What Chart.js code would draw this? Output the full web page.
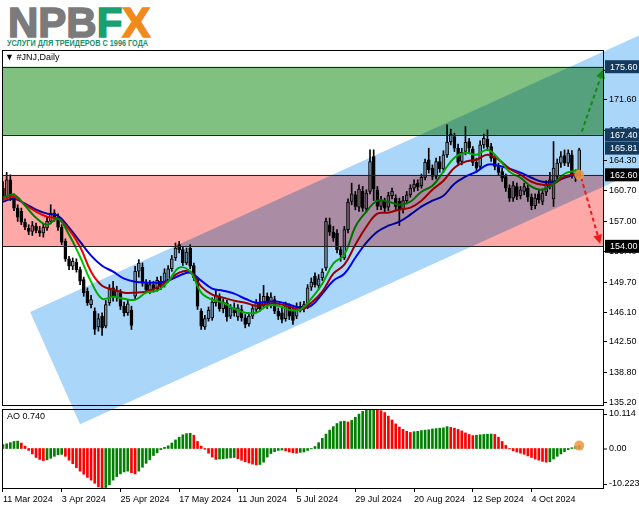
<!DOCTYPE html>
<html lang="ru">
<head>
<meta charset="UTF-8">
<title>#JNJ,Daily</title>
<script src="https://cdn.jsdelivr.net/npm/chart.js@4"></script>
<style>
  body { margin:0; width:639px; height:508px; overflow:hidden; position:relative; background:#fff;
         font-family:"Liberation Sans", Arial, sans-serif; }
  canvas { position:absolute; left:0; top:0; }
  .fit { position:absolute; white-space:nowrap; transform-origin:0 0; }
  #logo { left:8px; top:1px; font-weight:bold; font-size:42px; line-height:44px; color:#7b7b7b;
          -webkit-text-stroke:1.6px currentColor; }
  #logo .f { color:#1a9f72; }
  #logo .x { color:#f08a1c; }
  #tag { left:7px; top:38px; font-weight:bold; font-size:9px; color:#1b8f6c; }
  #title { left:5px; top:52px; font-size:9px; color:#000; z-index:5; }
</style>
</head>
<body>
<div id="logo" class="fit">NPB<span class="f">F</span><span class="x">X</span></div>
<div id="tag" class="fit">УСЛУГИ ДЛЯ ТРЕЙДЕРОВ С 1996 ГОДА</div>
<canvas id="main" width="639" height="508"></canvas>
<canvas id="ao" width="639" height="508"></canvas>
<div id="title" class="fit">&#9660; #JNJ,Daily</div>

<script>
// --- data (bar 0 = 11 Mar 2024) ---
const open  = [161.0,160.0,162.0,159.9,158.6,158.2,156.9,156.2,155.8,156.4,155.9,155.6,156.2,157.0,158.0,157.5,156.3,154.6,152.5,151.6,
               152.1,151.2,150.0,148.6,147.0,146.2,144.3,145.6,144.4,147.2,149.0,147.8,148.4,146.8,146.0,146.3,148.0,151.0,151.5,149.6,
               148.7,149.4,148.9,149.8,149.4,150.0,151.3,152.6,154.2,153.6,152.0,153.8,151.7,150.0,146.2,144.3,145.3,145.4,147.2,148.0,
               146.5,147.2,145.6,146.6,145.5,146.4,145.4,144.7,145.6,146.4,147.2,146.8,148.0,146.9,147.6,146.2,146.0,145.3,146.8,146.2,
               145.6,146.8,146.5,146.8,149.1,150.4,149.3,150.2,151.4,156.6,155.7,155.6,153.6,152.6,156.0,159.4,160.2,158.7,160.6,158.5,
               160.6,164.8,160.8,158.8,159.4,158.7,160.1,159.8,159.4,158.4,159.5,160.2,161.0,161.6,161.3,162.3,164.4,163.4,162.4,164.2,
               163.3,165.0,166.6,167.2,165.8,164.2,165.4,166.6,165.7,164.1,163.6,166.2,166.9,166.0,164.6,163.6,163.0,162.4,161.0,159.8,
               161.2,160.1,160.6,161.0,159.9,158.9,160.3,159.4,160.5,161.2,159.7,162.4,164.0,164.9,164.0,165.0,162.6,162.6];
const high  = [161.8,162.9,162.6,160.3,159.0,158.6,157.3,156.6,157.0,156.8,156.4,156.7,157.5,159.0,158.4,157.9,156.6,154.9,152.8,152.6,
               152.5,151.5,150.3,149.0,148.1,146.6,145.9,146.0,147.5,149.4,149.8,149.2,148.8,147.3,147.5,146.8,151.6,152.4,152.0,150.0,
               149.9,149.8,150.3,150.4,151.3,151.7,152.9,154.4,154.6,153.9,153.8,154.2,152.0,150.2,146.5,145.7,146.7,147.8,148.7,148.3,
               147.7,147.5,147.0,147.2,147.0,146.9,145.8,146.0,146.9,147.6,148.3,149.3,148.4,148.4,148.0,146.6,146.6,147.3,147.1,146.6,
               147.2,147.3,147.4,149.4,150.2,150.8,150.6,151.3,157.4,157.4,156.4,156.0,154.0,156.4,159.7,161.6,160.6,161.4,161.2,160.8,
               165.6,165.6,161.2,160.0,159.8,160.5,161.0,160.2,159.8,160.0,160.6,161.4,162.0,162.0,162.7,164.5,165.8,163.8,164.6,164.8,
               165.5,168.6,168.1,167.6,166.3,165.8,168.4,167.0,166.0,164.6,166.7,167.5,168.0,166.4,165.0,164.0,163.4,162.7,161.4,161.8,
               161.6,161.2,161.6,161.4,160.3,160.3,160.8,160.9,161.9,162.9,166.6,164.5,165.4,165.6,165.6,165.5,163.2,165.8];
const low   = [159.6,159.8,159.5,158.3,157.0,156.6,156.0,155.4,155.3,155.6,155.2,155.1,155.9,156.7,157.0,155.9,154.2,152.2,151.2,151.2,
               150.9,149.4,148.0,146.9,146.6,143.4,143.8,143.3,144.2,146.9,147.4,147.4,146.4,145.6,145.7,144.0,147.6,150.3,149.2,148.4,
               148.3,148.5,148.6,148.8,149.1,149.7,151.0,152.3,153.2,151.7,151.8,151.3,149.9,146.4,144.0,144.0,145.0,145.1,146.8,146.2,
               146.0,145.0,145.3,145.6,145.1,145.0,144.2,144.4,145.3,146.1,146.2,146.6,146.5,146.6,145.9,145.2,144.8,145.0,145.2,144.6,
               145.3,146.1,146.1,146.5,148.7,149.1,148.8,149.9,151.1,155.3,154.6,153.2,152.2,152.4,155.6,159.0,158.4,158.2,158.2,158.1,
               160.3,159.5,158.4,158.4,158.1,158.3,159.7,158.4,156.5,158.0,159.1,159.9,160.6,160.7,161.0,162.0,162.8,162.0,162.1,162.9,
               162.9,164.7,166.2,165.4,163.7,163.8,165.0,165.2,163.7,162.9,163.3,165.8,165.5,164.2,163.2,162.5,161.8,160.6,159.4,159.4,
               159.6,159.7,160.2,159.4,158.4,158.5,159.2,159.0,160.1,160.9,158.8,161.8,163.5,163.7,163.6,162.2,161.8,162.3];
const close = [160.0,162.0,159.9,158.6,157.5,156.9,156.3,155.8,156.5,155.9,155.6,156.3,157.0,158.0,157.4,156.3,154.5,152.5,151.6,152.2,
               151.2,149.8,148.4,147.2,147.6,144.0,145.3,144.2,147.0,148.9,147.9,148.7,146.8,146.0,147.1,144.5,151.0,152.0,149.6,148.8,
               149.4,148.9,149.9,149.2,150.8,151.3,152.5,153.8,153.6,152.0,153.3,151.6,150.2,146.8,144.4,145.3,146.3,147.3,148.1,146.5,
               147.3,145.5,146.6,146.0,146.6,145.4,144.6,145.6,146.5,147.2,146.5,148.0,146.8,147.9,146.2,145.6,145.2,146.9,145.6,145.1,
               146.8,146.5,147.0,149.0,149.7,149.4,150.1,150.9,157.0,155.7,155.0,153.6,153.0,156.0,159.3,160.3,158.8,160.9,158.6,160.4,
               164.2,160.9,158.8,159.5,158.6,160.1,160.6,158.8,158.4,159.5,160.2,161.0,161.5,161.1,162.3,164.1,163.2,162.4,164.2,163.3,
               165.0,166.5,167.5,165.8,164.1,165.3,166.5,165.8,164.1,163.4,166.2,167.0,166.0,164.6,163.6,162.9,162.2,161.0,159.8,161.3,
               160.0,160.8,161.2,159.9,158.9,159.8,159.6,160.4,161.5,162.0,163.4,164.0,164.8,164.0,165.2,162.6,162.3,165.6];

// moving averages, sampled every third bar
const maBars = [0,3,6,9,12,15,18,21,24,27,30,33,36,39,42,45,48,51,54,57,60,63,66,69,72,75,78,81,84,87,
                90,93,96,99,102,105,108,111,114,117,120,123,126,129,132,135,138,141,144,147,150,153,156,157];
const maFast = [159.85,160.21,158.89,157.44,156.60,157.32,155.40,152.75,149.75,147.70,147.95,147.70,147.58,148.43,148.67,
                149.75,151.43,150.95,148.43,147.58,147.22,146.50,146.02,146.02,146.86,146.86,146.38,146.38,147.70,149.51,
                151.91,153.00,156.36,158.17,159.49,159.37,159.01,159.37,160.57,161.29,162.98,164.66,165.26,165.02,165.62,
                164.54,162.98,162.25,161.17,160.81,161.53,162.73,163.10,163.22];
const maMid  = [159.61,159.97,159.01,158.17,157.56,157.32,156.00,153.96,150.95,149.27,148.79,148.43,148.43,148.55,149.03,
                149.87,150.83,150.95,149.15,148.19,147.83,147.46,147.22,146.86,147.10,147.10,146.74,146.38,147.22,148.55,
                150.71,151.79,154.20,156.36,157.93,158.05,158.41,158.65,159.49,160.81,161.89,163.46,164.18,164.42,165.02,
                164.42,163.34,162.61,161.77,161.41,161.53,162.37,162.73,162.86];
const maSlow = [159.37,159.73,159.13,158.41,157.93,157.68,156.24,154.56,152.88,151.67,150.95,150.11,149.75,149.63,149.63,
                149.87,150.47,150.83,149.87,148.91,148.67,148.31,147.70,147.22,147.34,147.34,146.98,146.62,146.86,148.31,
                149.87,150.71,152.63,154.44,155.76,156.48,156.96,157.81,158.77,159.49,160.09,161.53,162.37,162.98,163.82,
                163.70,163.34,162.86,162.25,161.77,161.77,162.25,162.61,162.73];

// Awesome Oscillator
const aoValues = [1.0,1.2,1.5,1.8,1.9,1.4,0.6,-0.5,-1.4,-2.3, -2.8,-3.1,-2.9,-2.5,-2.0,-1.6,-1.5,-2.0,-3.0,-3.9,
                  -4.9,-5.8,-6.6,-7.4,-8.1,-8.9,-9.8,-10.22,-10.0,-9.3, -8.1,-7.2,-6.5,-6.0,-5.8,-6.2,-6.5,-5.8,-4.8,-3.8,
                  -2.9,-1.8,-1.1,-0.3,0.3,0.7,1.4,2.2,2.9,3.5, 3.8,3.9,3.4,1.8,0.6,-0.2,-1.2,-2.2,-2.8,-2.7,
                  -2.6,-2.5,-2.4,-2.3,-2.6,-3.0,-3.4,-3.7,-4.0,-4.2, -4.1,-3.5,-2.2,-1.3,-0.8,-0.5,-0.4,-0.6,-0.9,-1.1,
                  -1.2,-1.0,-0.9,-0.5,-0.1,0.5,1.5,2.6,3.7,4.7, 5.6,6.4,6.9,7.0,6.8,7.2,8.0,8.8,9.5,9.9,
                  10.05,10.11,9.95,9.7,9.2,8.3,7.3,6.3,5.5,4.9, 4.4,4.1,4.3,4.4,4.6,4.7,4.8,5.0,5.1,5.2,
                  5.3,5.6,5.4,5.2,4.9,4.5,4.0,3.6,3.3,3.4, 3.5,3.6,3.65,3.7,3.6,2.9,1.8,0.8,-0.1,-0.6,
                  -0.9,-1.2,-1.5,-1.9,-2.3,-2.7,-3.0,-3.3,-3.5,-3.4, -2.7,-2.0,-1.4,-0.8,-0.3,0.2,0.5,0.74];
const aoTicks = [10.114, 0, -10.223];

const dateBars   = [0,16,32,48,64,80,96,112,128,144];
const dateLabels = ['11 Mar 2024','3 Apr 2024','25 Apr 2024','17 May 2024','11 Jun 2024',
                    '5 Jul 2024','29 Jul 2024','20 Aug 2024','12 Sep 2024','4 Oct 2024'];
const priceTicks = [135.2,138.8,142.5,146.1,149.7,153.4,157.0,160.7,164.3,167.9,171.6,175.2];

// drawn objects (price levels, zones, channel, arrows)
const zoneFrom = [167.4, 154.0];
const zoneTo   = [175.6, 162.6];
const badgePrices = [175.60, 167.40, 165.81, 162.60, 154.00];
const channelBars   = [7.4, 185];
const channelPrices = [146.1, 181.7];
const channelShift  = [13.6, -13.5];     // [bars, price] to the far edge
const arrowUp   = {bars:[157.7, 163.6], prices:[167.8, 175.3]};
const arrowDown = {bars:[157.5, 162.7], prices:[162.3, 154.3]};
const lastPrice = 162.6;

// styles
const FONT = '"Liberation Sans", Arial, sans-serif';
const X_MIN = -0.27, X_MAX = 163.75;
const zoneColors = ['#80c080', '#ffa8a8'];
const channelColor = '#aad6fa';
const badgeColors = ['#143a5e', '#143a5e', '#143a5e', '#000000', '#000000'];
const bullFill = '#a8a8a8', bearFill = '#000000';

function fit(id, w) {
  const el = document.getElementById(id);
  el.style.transform = 'scaleX(' + (w / el.offsetWidth) + ')';
}
fit('logo', 142);
fit('tag', 141);

function arrow(ctx, x, y, a, color) {
  const x0 = x.getPixelForValue(a.bars[0]), y0 = y.getPixelForValue(a.prices[0]);
  const x1 = x.getPixelForValue(a.bars[1]), y1 = y.getPixelForValue(a.prices[1]);
  const ang = Math.atan2(y1 - y0, x1 - x0);
  const hx = x1 - Math.cos(ang) * 9, hy = y1 - Math.sin(ang) * 9;
  ctx.save();
  ctx.strokeStyle = color; ctx.fillStyle = color; ctx.lineWidth = 2;
  ctx.setLineDash([4, 3]);
  ctx.beginPath(); ctx.moveTo(x0, y0); ctx.lineTo(hx, hy); ctx.stroke();
  ctx.setLineDash([]);
  ctx.beginPath();
  ctx.moveTo(x1, y1);
  ctx.lineTo(hx + Math.sin(ang) * 4.5, hy - Math.cos(ang) * 4.5);
  ctx.lineTo(hx - Math.sin(ang) * 4.5, hy + Math.cos(ang) * 4.5);
  ctx.closePath(); ctx.fill();
  ctx.restore();
}

const mainOverlay = {
  id: 'mainOverlay',
  afterDatasetsDraw(chart) {
    const {ctx, chartArea: a, scales: {x, y}} = chart;
    ctx.save();
    ctx.globalCompositeOperation = 'multiply';
    ctx.save();
    ctx.beginPath(); ctx.rect(a.left, a.top, a.width, a.height); ctx.clip();
    zoneFrom.forEach((f, k) => {
      const t = y.getPixelForValue(zoneTo[k]), b = y.getPixelForValue(f);
      ctx.fillStyle = zoneColors[k];
      ctx.fillRect(a.left, t, a.width, b - t);
    });
    ctx.restore();
    // channel (not clipped, it runs past the frame like in the terminal)
    const c = [[channelBars[0], channelPrices[0]], [channelBars[1], channelPrices[1]],
               [channelBars[1] + channelShift[0], channelPrices[1] + channelShift[1]],
               [channelBars[0] + channelShift[0], channelPrices[0] + channelShift[1]]];
    ctx.fillStyle = channelColor;
    ctx.beginPath();
    c.forEach((p, k) => {
      const px = x.getPixelForValue(p[0]), py = y.getPixelForValue(p[1]);
      k ? ctx.lineTo(px, py) : ctx.moveTo(px, py);
    });
    ctx.closePath(); ctx.fill();
    ctx.restore();

    // zone edges
    ctx.save();
    ctx.strokeStyle = '#222'; ctx.lineWidth = 1;
    [...zoneFrom, ...zoneTo].forEach(v => {
      const py = Math.round(y.getPixelForValue(v)) + 0.5;
      ctx.beginPath(); ctx.moveTo(a.left, py); ctx.lineTo(a.right, py); ctx.stroke();
    });
    ctx.restore();
  },
  afterDraw(chart) {
    const {ctx, chartArea: a, scales: {x, y}} = chart;
    arrow(ctx, x, y, arrowUp, '#138a13');
    arrow(ctx, x, y, arrowDown, '#f01818');
    // last price marker
    ctx.save();
    ctx.fillStyle = 'rgba(240,150,70,0.85)';
    ctx.beginPath();
    ctx.arc(x.getPixelForValue(open.length - 1), y.getPixelForValue(lastPrice), 5, 0, Math.PI * 2);
    ctx.fill();
    // frame
    ctx.strokeStyle = '#000'; ctx.lineWidth = 1;
    ctx.strokeRect(a.left + 0.5, a.top + 0.5, a.width - 1, a.height - 1);
    // price badges
    ctx.font = '9px ' + FONT;
    ctx.textBaseline = 'middle';
    badgePrices.forEach((v, k) => {
      const py = y.getPixelForValue(v);
      ctx.fillStyle = badgeColors[k];
      ctx.fillRect(a.right + 1, py - 6.5, 639 - a.right - 1, 13);
      ctx.fillStyle = '#fff';
      ctx.fillText(v.toFixed(2), a.right + 6, py + 0.5);
    });
    ctx.restore();
  }
};

new Chart(document.getElementById('main'), {
  type: 'bar',
  data: {
    datasets: [
      { type: 'line', data: maBars.map((b, k) => ({x: b, y: maFast[k]})), borderColor: '#00c800',
        borderWidth: 2, pointRadius: 0, tension: 0.4, order: 0 },
      { type: 'line', data: maBars.map((b, k) => ({x: b, y: maMid[k]})), borderColor: '#e80000',
        borderWidth: 2, pointRadius: 0, tension: 0.4, order: 0 },
      { type: 'line', data: maBars.map((b, k) => ({x: b, y: maSlow[k]})), borderColor: '#0000f0',
        borderWidth: 2, pointRadius: 0, tension: 0.4, order: 0 },
      { data: open.map((o, i) => ({x: i, y: [o, close[i]]})),
        backgroundColor: open.map((o, i) => close[i] >= o ? bullFill : bearFill),
        borderColor: '#000', borderWidth: 1, borderSkipped: false, barThickness: 3,
        minBarLength: 1, grouped: false, order: 1 },
      { data: low.map((l, i) => ({x: i, y: [l, high[i]]})),
        backgroundColor: '#000', barThickness: 1, grouped: false, order: 2 }
    ]
  },
  options: {
    responsive: false, animation: false, events: [],
    layout: {padding: {top: 50, left: 2, right: 0, bottom: 102}},
    plugins: {legend: {display: false}, tooltip: {enabled: false}},
    scales: {
      x: {type: 'linear', min: X_MIN, max: X_MAX, offset: false, display: false},
      y: {
        type: 'linear', position: 'right', min: 134.80, max: 177.61,
        afterFit(s) { s.width = 35; },
        afterBuildTicks(s) { s.ticks = priceTicks.map(v => ({value: v})); },
        ticks: {callback: v => v.toFixed(2), color: '#000', font: {size: 9, family: FONT}, padding: 2},
        grid: {drawOnChartArea: false, tickLength: 3, color: '#000'},
        border: {display: false}
      }
    }
  },
  plugins: [mainOverlay]
});

const aoOverlay = {
  id: 'aoOverlay',
  afterDraw(chart) {
    const {ctx, chartArea: a, scales: {x, y}} = chart;
    ctx.save();
    ctx.strokeStyle = '#000'; ctx.lineWidth = 1;
    ctx.strokeRect(a.left + 0.5, a.top + 0.5, a.width - 1, a.height - 1);
    ctx.font = '9px ' + FONT; ctx.fillStyle = '#000'; ctx.textBaseline = 'middle';
    aoTicks.forEach(v => {
      const py = y.getPixelForValue(v);
      const ly = Math.min(Math.max(py, a.top + 5), a.bottom - 5);
      ctx.beginPath(); ctx.moveTo(a.right, ly + 0.5); ctx.lineTo(a.right + 3, ly + 0.5); ctx.stroke();
      ctx.fillText(v === 0 ? '0.00' : v.toFixed(3), a.right + 5, ly);
    });
    ctx.fillText('AO ' + aoValues[aoValues.length - 1].toFixed(3), a.left + 5, a.top + 8);
    ctx.fillStyle = 'rgba(240,150,70,0.85)';
    ctx.beginPath();
    ctx.arc(x.getPixelForValue(aoValues.length - 1), y.getPixelForValue(aoValues[aoValues.length - 1]), 5, 0, Math.PI * 2);
    ctx.fill();
    ctx.restore();
  }
};

new Chart(document.getElementById('ao'), {
  type: 'bar',
  data: {
    datasets: [{
      data: aoValues.map((v, i) => ({x: i, y: v})),
      backgroundColor: aoValues.map((v, i) => (i > 0 && v < aoValues[i - 1]) ? '#ff0000' : '#008000'),
      barThickness: 2, grouped: false
    }]
  },
  options: {
    responsive: false, animation: false, events: [],
    layout: {padding: {top: 409, left: 2, right: 0, bottom: 0}},
    plugins: {legend: {display: false}, tooltip: {enabled: false}},
    scales: {
      x: {
        type: 'linear', position: 'bottom', min: X_MIN, max: X_MAX, offset: false,
        afterFit(s) { s.height = 19; },
        afterBuildTicks(s) { s.ticks = dateBars.map(v => ({value: v})); },
        ticks: {callback: (v, i) => dateLabels[i], align: 'start', maxRotation: 0, autoSkip: false,
                color: '#000', font: {size: 9, family: FONT}, padding: 2},
        grid: {drawOnChartArea: false, tickLength: 3, color: '#000', offset: false},
        border: {display: false}
      },
      y: {
        type: 'linear', position: 'right', min: -10.37, max: 10.114,
        afterFit(s) { s.width = 35; },
        ticks: {display: false}, grid: {display: false}, border: {display: false}
      }
    }
  },
  plugins: [aoOverlay]
});
</script>
</body>
</html>
